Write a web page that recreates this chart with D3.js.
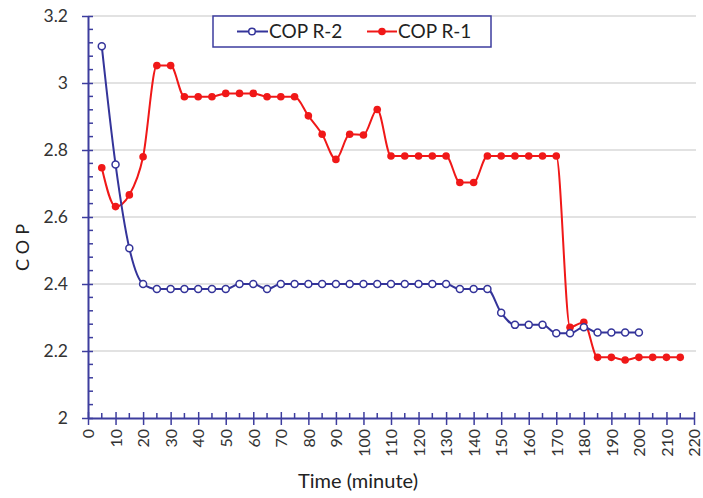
<!DOCTYPE html>
<html><head><meta charset="utf-8">
<script src="https://cdn.jsdelivr.net/npm/d3@7/dist/d3.min.js"></script>
<style>body{margin:0;background:#fff}svg{display:block}text{font-family:Lato,"Open Sans",sans-serif}</style>
</head><body>
<script>
const timesR2 = [5,10,15,20,25,30,35,40,45,50,55,60,65,70,75,80,85,90,95,100,105,110,115,120,125,130,135,140,145,150,155,160,165,170,175,180,185,190,195,200];
const copR2 = [3.11,2.757,2.507,2.40,2.385,2.385,2.385,2.385,2.385,2.385,2.40,2.40,2.385,2.40,2.40,2.40,2.40,2.40,2.40,2.40,2.40,2.40,2.40,2.40,2.40,2.40,2.385,2.385,2.385,2.314,2.278,2.278,2.278,2.253,2.253,2.271,2.255,2.255,2.255,2.255];
const timesR1 = [5,10,15,20,25,30,35,40,45,50,55,60,65,70,75,80,85,90,95,100,105,110,115,120,125,130,135,140,145,150,155,160,165,170,175,180,185,190,195,200,205,210,215];
const copR1 = [2.747,2.631,2.666,2.78,3.052,3.052,2.959,2.959,2.959,2.969,2.969,2.969,2.959,2.959,2.959,2.902,2.847,2.772,2.847,2.845,2.921,2.782,2.782,2.782,2.782,2.782,2.703,2.703,2.782,2.782,2.782,2.782,2.782,2.782,2.271,2.286,2.181,2.181,2.173,2.181,2.181,2.181,2.181];
const seriesNames = ["COP R-2","COP R-1"];
const xTicks = d3.range(0,221,10);
const yTicks = [2,2.2,2.4,2.6,2.8,3,3.2];
const yTickLabels = ["2","2.2","2.4","2.6","2.8","3","3.2"];

const W=703,H=498;
const blue="#34349a", red="#f01818", axisC="#3d3d9e";
const svg=d3.select("body").append("svg").attr("width",W).attr("height",H);
const x=d3.scaleLinear().domain([0,220]).range([88,694]);
const y=d3.scaleLinear().domain([2,3.2]).range([418,16]);

// gridlines
svg.append("g").selectAll("line").data(yTicks.filter(d=>d>2)).join("line")
  .attr("x1",88).attr("x2",696).attr("y1",d=>y(d)).attr("y2",d=>y(d))
  .attr("stroke","#d9d9d9").attr("stroke-width",1.5);

// minor ticks
const gMinor=svg.append("g").attr("stroke",axisC).attr("stroke-width",1.5);
gMinor.selectAll("line.mx").data(d3.range(5,220,10)).join("line").attr("class","mx")
  .attr("x1",d=>x(d)).attr("x2",d=>x(d)).attr("y1",418).attr("y2",413);
gMinor.selectAll("line.my").data(d3.range(0,30).map(i=>2+i*0.04).filter((d,i)=>i%5!==0)).join("line").attr("class","my")
  .attr("y1",d=>y(d)).attr("y2",d=>y(d)).attr("x1",88).attr("x2",93);

// x axis
const xAxis=svg.append("g").attr("transform","translate(0,418)")
  .call(d3.axisBottom(x).tickValues(xTicks).tickSize(7).tickSizeOuter(0).tickPadding(4));
xAxis.select(".domain").attr("stroke",axisC).attr("stroke-width",2);
xAxis.selectAll(".tick line").attr("stroke",axisC).attr("stroke-width",1.5).attr("y1",-6).attr("y2",7);
xAxis.selectAll(".tick text").attr("transform","rotate(-90)").attr("x",-11).attr("y",0).attr("dy","0.36em")
  .attr("text-anchor","end").attr("fill","#333").style("font-size","16px").style("font-family","Lato,sans-serif");

// y axis
const yAxis=svg.append("g").attr("transform","translate(88,0)")
  .call(d3.axisLeft(y).tickValues(yTicks).tickFormat((d,i)=>yTickLabels[i]).tickSize(7).tickSizeOuter(0).tickPadding(13));
yAxis.select(".domain").attr("stroke",axisC).attr("stroke-width",2);
yAxis.selectAll(".tick line").attr("stroke",axisC).attr("stroke-width",1.5).attr("x1",-6).attr("x2",5);
yAxis.selectAll(".tick text").attr("fill","#333").style("font-size","17.5px").style("font-family","Lato,sans-serif");

// titles
svg.append("text").attr("x",358).attr("y",488).attr("text-anchor","middle").attr("fill","#222")
  .style("font-size","20px").text("Time (minute)");
svg.append("text").attr("transform","translate(29,245) rotate(-90)").attr("text-anchor","middle").attr("fill","#222")
  .style("font-size","18px").style("letter-spacing","5px").text("COP");

// lines
const line=d3.line().x(d=>x(d[0])).y(d=>y(d[1])).curve(d3.curveMonotoneX);
const d2=timesR2.map((t,i)=>[t,copR2[i]]);
const d1=timesR1.map((t,i)=>[t,copR1[i]]);
svg.append("path").datum(d1).attr("d",line).attr("fill","none").attr("stroke",red).attr("stroke-width",2);
svg.append("path").datum(d2).attr("d",line).attr("fill","none").attr("stroke",blue).attr("stroke-width",2);
svg.append("g").selectAll("circle").data(d1).join("circle").attr("cx",d=>x(d[0])).attr("cy",d=>y(d[1])).attr("r",3.8).attr("fill",red);
svg.append("g").selectAll("circle").data(d2).join("circle").attr("cx",d=>x(d[0])).attr("cy",d=>y(d[1])).attr("r",3.5).attr("fill","#fff").attr("stroke",blue).attr("stroke-width",1.5);

// legend
const lg=svg.append("g");
lg.append("rect").attr("x",213).attr("y",16).attr("width",278).attr("height",31).attr("fill","#fff").attr("stroke",axisC).attr("stroke-width",1.5);
lg.append("line").attr("x1",237).attr("x2",268).attr("y1",31.5).attr("y2",31.5).attr("stroke",blue).attr("stroke-width",2);
lg.append("circle").attr("cx",252).attr("cy",31.5).attr("r",3.3).attr("fill","#fff").attr("stroke",blue).attr("stroke-width",1.5);
lg.append("text").attr("x",269).attr("y",38).attr("fill","#222").style("font-size","19px").text(seriesNames[0]);
lg.append("line").attr("x1",367).attr("x2",397).attr("y1",31.5).attr("y2",31.5).attr("stroke",red).attr("stroke-width",2);
lg.append("circle").attr("cx",382).attr("cy",31.5).attr("r",3.8).attr("fill",red);
lg.append("text").attr("x",398).attr("y",38).attr("fill","#222").style("font-size","19px").text(seriesNames[1]);
</script>
</body></html>
